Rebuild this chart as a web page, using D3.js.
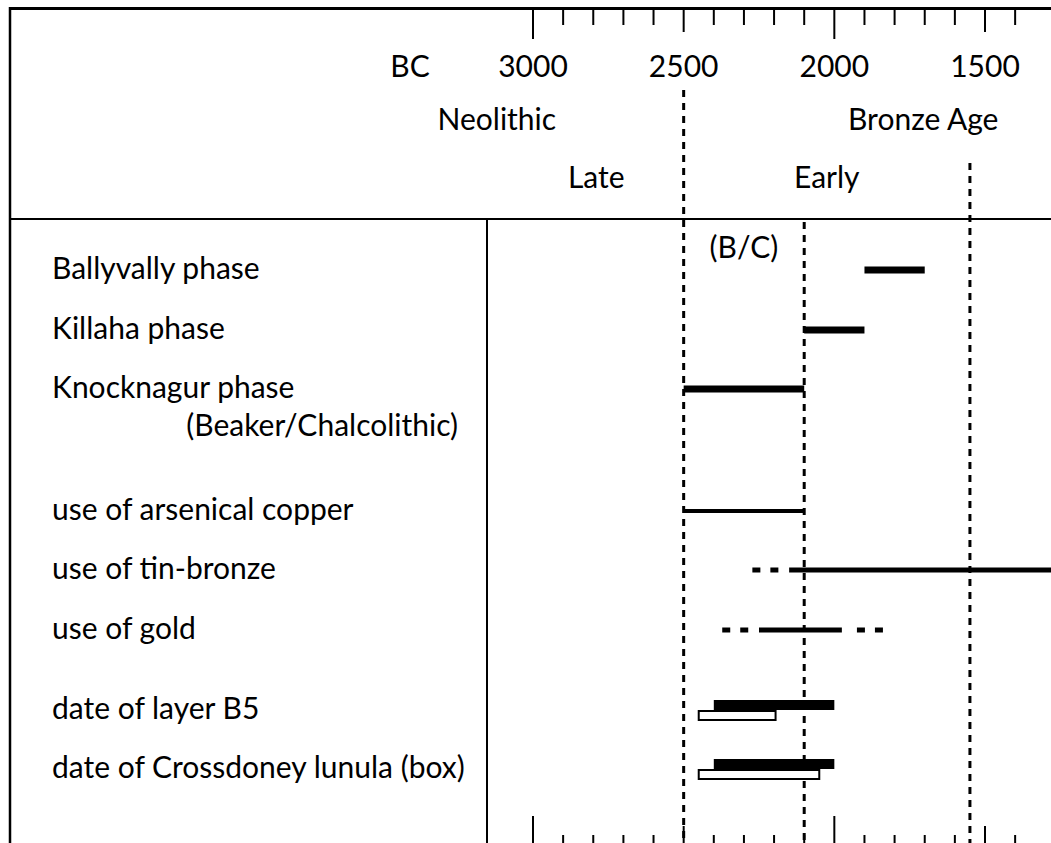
<!DOCTYPE html>
<html>
<head>
<meta charset="utf-8">
<script src="https://cdn.jsdelivr.net/npm/d3@7"></script>
<style>
  body { margin: 0; background: #fff; }
  text { font-family: Lato, "Noto Sans", sans-serif; font-size: 30px; fill: #000; }
</style>
</head>
<body>
<div id="chart"></div>
<script>
// chart size
const width = 1051
const height = 843

// data, years BC
const tickYears = [3000, 2900, 2800, 2700, 2600, 2500, 2400, 2300, 2200, 2100, 2000, 1900, 1800, 1700, 1600, 1500, 1400]
const longTicks = [3000, 2000]
const midTicks = [2500, 1500]
const tickLabels = [3000, 2500, 2000, 1500]

const periods = [
  {name: "Neolithic", year: 3120, row: 1},
  {name: "Bronze Age", year: 1705, row: 1},
  {name: "Late", year: 2790, row: 2},
  {name: "Early", year: 2025, row: 2}
]

// dashed period boundaries: year, where the dashes start
const boundaries = [
  {year: 2500, top: 90},
  {year: 2100, top: 222},
  {year: 1550, top: 163}
]

const rowLabels = [
  "Ballyvally phase",
  "Killaha phase",
  "Knocknagur phase",
  "use of arsenical copper",
  "use of tin-bronze",
  "use of gold",
  "date of layer B5",
  "date of Crossdoney lunula (box)"
]
const rowY = [270, 330, 389, 511, 570, 630, 710, 769]

// thick phase bars
const phaseBars = [
  {row: 0, from: 1900, to: 1700},
  {row: 1, from: 2100, to: 1900},
  {row: 2, from: 2500, to: 2100}
]
// metal use: solid and uncertain (dashed) parts
const metalSolid = [
  {row: 3, from: 2500, to: 2100, w: 4},
  {row: 4, from: 2150, to: 1280, w: 5},
  {row: 5, from: 2250, to: 1975, w: 5}
]
const metalDashed = [
  {row: 4, from: 2272, to: 2185},
  {row: 5, from: 2372, to: 2285},
  {row: 5, from: 1925, to: 1838}
]
// dates: filled range and open box
const dateFilled = [
  {row: 6, from: 2400, to: 2000},
  {row: 7, from: 2400, to: 2000}
]
const dateOpen = [
  {row: 6, from: 2450, to: 2195},
  {row: 7, from: 2450, to: 2050}
]

var x = d3.scaleLinear()
  .domain([3000, 1500])
  .range([533, 985])

var svg = d3.select("#chart")
  .append("svg")
  .attr("width", width)
  .attr("height", height)

svg.append("rect")
  .attr("width", width)
  .attr("height", height)
  .attr("fill", "white")

// frame lines
svg.append("line").attr("x1", 10).attr("x2", width).attr("y1", 8.5).attr("y2", 8.5)
  .attr("stroke", "#000").attr("stroke-width", 3)
svg.append("line").attr("x1", 10).attr("x2", 10).attr("y1", 7).attr("y2", height)
  .attr("stroke", "#000").attr("stroke-width", 2.5)
svg.append("line").attr("x1", 10).attr("x2", width).attr("y1", 219).attr("y2", 219)
  .attr("stroke", "#000").attr("stroke-width", 2)
svg.append("line").attr("x1", 487).attr("x2", 487).attr("y1", 219).attr("y2", height)
  .attr("stroke", "#000").attr("stroke-width", 2)

function tickLen(d, big, mid, small) {
  if (longTicks.includes(d)) return big
  if (midTicks.includes(d)) return mid
  return small
}

// top ticks hanging from the frame
svg.append("g").selectAll("line")
  .data(tickYears)
  .enter()
  .append("line")
  .attr("x1", d => x(d)).attr("x2", d => x(d))
  .attr("y1", 9)
  .attr("y2", d => 9 + tickLen(d, 30, 23, 16))
  .attr("stroke", "#000").attr("stroke-width", 2)

// bottom ticks
svg.append("g").selectAll("line")
  .data(tickYears)
  .enter()
  .append("line")
  .attr("x1", d => x(d)).attr("x2", d => x(d))
  .attr("y1", d => height - tickLen(d, 27, 17, 8))
  .attr("y2", height)
  .attr("stroke", "#000").attr("stroke-width", 2)

// header texts
svg.append("text").attr("x", 410).attr("y", 77).attr("text-anchor", "middle").text("BC")
svg.append("g").selectAll("text")
  .data(tickLabels)
  .enter()
  .append("text")
  .attr("x", d => x(d))
  .attr("y", 77)
  .attr("text-anchor", "middle")
  .text(d => d)

svg.append("g").selectAll("text")
  .data(periods)
  .enter()
  .append("text")
  .attr("x", d => x(d.year))
  .attr("y", d => d.row == 1 ? 130 : 188)
  .attr("text-anchor", "middle")
  .text(d => d.name)

svg.append("text").attr("x", x(2300)).attr("y", 258).attr("text-anchor", "middle").text("(B/C)")

// dashed boundaries
svg.append("g").selectAll("line")
  .data(boundaries)
  .enter()
  .append("line")
  .attr("x1", d => x(d.year)).attr("x2", d => x(d.year))
  .attr("y1", d => d.top)
  .attr("y2", height)
  .attr("stroke", "#000").attr("stroke-width", 3)
  .attr("stroke-dasharray", "7,6")

// row labels
svg.append("g").selectAll("text")
  .data(rowLabels)
  .enter()
  .append("text")
  .attr("x", 52)
  .attr("y", (d, i) => rowY[i] + 9)
  .text(d => d)

svg.append("text").attr("x", 458).attr("y", 436).attr("text-anchor", "end").text("(Beaker/Chalcolithic)")

// phase bars
svg.append("g").selectAll("line")
  .data(phaseBars)
  .enter()
  .append("line")
  .attr("x1", d => x(d.from)).attr("x2", d => x(d.to))
  .attr("y1", d => rowY[d.row]).attr("y2", d => rowY[d.row])
  .attr("stroke", "#000").attr("stroke-width", 7)

svg.append("g").selectAll("line")
  .data(metalSolid)
  .enter()
  .append("line")
  .attr("x1", d => x(d.from)).attr("x2", d => x(d.to))
  .attr("y1", d => rowY[d.row]).attr("y2", d => rowY[d.row])
  .attr("stroke", "#000").attr("stroke-width", d => d.w)

svg.append("g").selectAll("line")
  .data(metalDashed)
  .enter()
  .append("line")
  .attr("x1", d => x(d.from)).attr("x2", d => x(d.to))
  .attr("y1", d => rowY[d.row]).attr("y2", d => rowY[d.row])
  .attr("stroke", "#000").attr("stroke-width", 5)
  .attr("stroke-dasharray", "8,10")

// date boxes
svg.append("g").selectAll("rect")
  .data(dateFilled)
  .enter()
  .append("rect")
  .attr("x", d => x(d.from))
  .attr("width", d => x(d.to) - x(d.from))
  .attr("y", d => rowY[d.row] - 10)
  .attr("height", 10)
  .attr("fill", "#000")

svg.append("g").selectAll("rect")
  .data(dateOpen)
  .enter()
  .append("rect")
  .attr("x", d => x(d.from))
  .attr("width", d => x(d.to) - x(d.from))
  .attr("y", d => rowY[d.row] + 1)
  .attr("height", 9)
  .attr("fill", "white")
  .attr("stroke", "#000")
  .attr("stroke-width", 2)
</script>
</body>
</html>
